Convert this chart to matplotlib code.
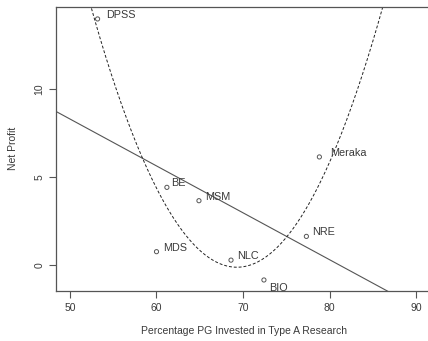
import numpy as np
import matplotlib.pyplot as plt

plt.rcParams['font.family'] = ['Liberation Sans', 'DejaVu Sans']

# share of PG invested in type A research vs. net profit
names = ['DPSS', 'BE', 'MSM', 'MDS', 'NLC', 'NRE', 'BIO', 'Meraka']
pct_a = [53.2, 61.2, 64.9, 60.0, 68.6, 77.3, 72.4, 78.8]
profit = [14.0, 4.42, 3.66, 0.76, 0.28, 1.63, -0.85, 6.15]

# where each name sits relative to its point (pixels)
label_off = {'DPSS': (9, 4), 'BE': (4, 4), 'MSM': (6, 4), 'MDS': (7, 4),
             'NLC': (6, 4), 'NRE': (6, 4), 'BIO': (5, -8), 'Meraka': (11, 4)}

grey = '#555555'
txt = '#3a3a3a'

fig = plt.figure(figsize=(4.28, 3.41), dpi=100)
ax = fig.add_axes([56 / 428, 1 - 290.7 / 341, 376 / 428, 283.7 / 341])

x = np.array(pct_a)
y = np.array(profit)

# linear and quadratic least-squares fits
lin = np.polyfit(x, y, 1)
quad = np.polyfit(x, y, 2)
xs = np.linspace(40, 100, 400)
ax.plot(xs, np.polyval(lin, xs), color=grey, lw=0.8)
ax.plot(xs, np.polyval(quad, xs), color='#222222', lw=0.7, ls=(0, (3, 2)))

ax.scatter(x, y, s=9, facecolors='none', edgecolors=grey, linewidths=0.7, zorder=3)
for n, xi, yi in zip(names, pct_a, profit):
    dx, dy = label_off[n]
    ax.annotate(n, (xi, yi), xytext=(dx, dy), textcoords='offset pixels',
                fontsize=7.8, color=txt, va='center', ha='left')

ax.set_xlim(48.4, 91.8)
ax.set_ylim(-1.46, 14.68)
ax.set_xticks([50, 60, 70, 80, 90])
ax.set_yticks([0, 5, 10])
ax.tick_params(colors=grey, labelcolor=txt, labelsize=7.5, length=5, width=0.8)
for lab in ax.get_yticklabels():
    lab.set_rotation(90)
    lab.set_va('center')
for sp in ax.spines.values():
    sp.set_color(grey)
    sp.set_linewidth(0.9)
ax.spines['right'].set_visible(False)

ax.set_xlabel('Percentage PG Invested in Type A Research', fontsize=7.5, color=txt, labelpad=10)
ax.set_ylabel('Net Profit', fontsize=7.5, color=txt, labelpad=12)

fig.savefig('out.png', dpi=100)
